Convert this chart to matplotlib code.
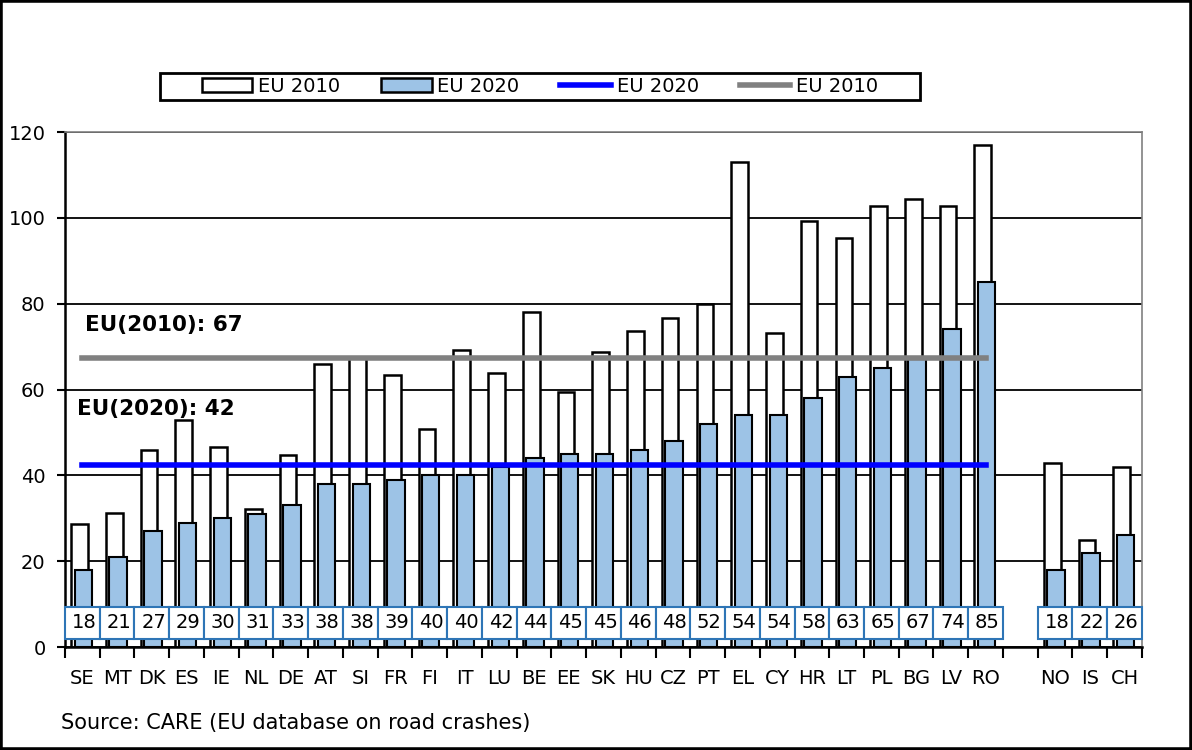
import numpy as np
import matplotlib.pyplot as plt
from matplotlib.patches import Rectangle, Patch
from matplotlib.lines import Line2D

# EU member states, sorted by 2020 value
eu_names = ["SE", "MT", "DK", "ES", "IE", "NL", "DE", "AT", "SI", "FR", "FI", "IT", "LU", "BE",
            "EE", "SK", "HU", "CZ", "PT", "EL", "CY", "HR", "LT", "PL", "BG", "LV", "RO"]
eu_2010 = [28.6, 31.3, 46.0, 53.0, 46.5, 32.2, 44.8, 66.0, 67.5, 63.4, 50.9, 69.1, 63.8, 78.1,
           59.4, 68.8, 73.7, 76.7, 80.0, 113.0, 73.2, 99.2, 95.2, 102.8, 104.5, 102.8, 117.0]
eu_2020 = [18, 21, 27, 29, 30, 31, 33, 38, 38, 39, 40, 40, 42, 44,
           45, 45, 46, 48, 52, 54, 54, 58, 63, 65, 67, 74, 85]

# non-EU countries
other_names = ["NO", "IS", "CH"]
other_2010 = [42.9, 25.0, 41.9]
other_2020 = [18, 22, 26]

avg_2010 = 67.4
avg_2020 = 42.4

blue_fill = "#9dc3e6"
box_blue = "#2e75b6"

# slot positions: EU first, one empty slot, then the others
x_eu = np.arange(len(eu_names))
x_oth = np.arange(len(other_names)) + len(eu_names) + 1
x_all = np.concatenate([x_eu, x_oth])
names = eu_names + other_names
v2010 = eu_2010 + other_2010
v2020 = eu_2020 + other_2020

fig = plt.figure(figsize=(11.92, 7.5), dpi=100)
ax = fig.add_axes([0.0545, 0.1373, 0.9035, 0.6867])

ax.bar(x_all - 0.08, v2010, width=0.48, color="white", edgecolor="black", lw=1.8, zorder=2)
ax.bar(x_all + 0.03, v2020, width=0.5, color=blue_fill, edgecolor="black", lw=1.5, zorder=3)

# EU averages, drawn across the EU part only
ax.plot([x_eu[0], x_eu[-1]], [avg_2020, avg_2020], color="#0000ff", lw=4, zorder=4)
ax.plot([x_eu[0], x_eu[-1]], [avg_2010, avg_2010], color="#808080", lw=4, zorder=4)
ax.text(0.08, 75.1, f"EU(2010): {round(avg_2010)}", fontsize=15.5, fontweight="bold", va="center", zorder=6)
ax.text(-0.16, 55.5, f"EU(2020): {round(avg_2020)}", fontsize=15.5, fontweight="bold", va="center", zorder=6)

# value boxes along the bottom
for xi, v in zip(x_all, v2020):
    ax.add_patch(Rectangle((xi - 0.5, 1.9), 1.0, 7.5, facecolor="white", edgecolor=box_blue,
                           lw=1.5, zorder=5, clip_on=False))
    ax.text(xi + 0.05, 5.6, f"{v}", ha="center", va="center", fontsize=14, zorder=6)

ax.set_xlim(-0.5, x_all[-1] + 0.5)
ax.set_ylim(0, 120)
ax.set_yticks(range(0, 121, 20))
ax.yaxis.grid(True, color="black", lw=1.3)
ax.set_axisbelow(True)

ax.set_xticks(np.arange(-0.5, x_all[-1] + 1, 1))
ax.set_xticklabels([])
ax.set_xticks(x_all, names, minor=True)
ax.tick_params(axis="x", which="major", length=8, width=1.5, direction="out")
ax.tick_params(axis="x", which="minor", length=0, pad=16, labelsize=14)
ax.tick_params(axis="y", length=6, width=1.5, pad=8, labelsize=14)

for s in ["left", "bottom"]:
    ax.spines[s].set_color("black")
    ax.spines[s].set_linewidth(1.8)
for s in ["top", "right"]:
    ax.spines[s].set_color("#808080")
    ax.spines[s].set_linewidth(1.2)

# legend with its own frame
fig.patches.append(Rectangle((160 / 1192, 1 - 100 / 750), 760 / 1192, 27 / 750,
                             transform=fig.transFigure, fill=False, edgecolor="black", lw=2))
handles = [Patch(facecolor="white", edgecolor="black", lw=1.8),
           Patch(facecolor=blue_fill, edgecolor="black", lw=1.8),
           Line2D([], [], color="#0000ff", lw=4),
           Line2D([], [], color="#808080", lw=4)]
fig.legend(handles, ["EU 2010", "EU 2020", "EU 2020", "EU 2010"], ncol=4, loc="center",
           bbox_to_anchor=(540 / 1192, 1 - 86.5 / 750), frameon=False, fontsize=14,
           handlelength=2.6, handletextpad=0.3, columnspacing=2.1)

fig.text(61 / 1192, 1 - 723 / 750, "Source: CARE (EU database on road crashes)",
         fontsize=15, va="center")

fig.patches.append(Rectangle((0, 0), 1, 1, transform=fig.transFigure, fill=False,
                             edgecolor="black", lw=4))

fig.savefig("out.png", dpi=100)
